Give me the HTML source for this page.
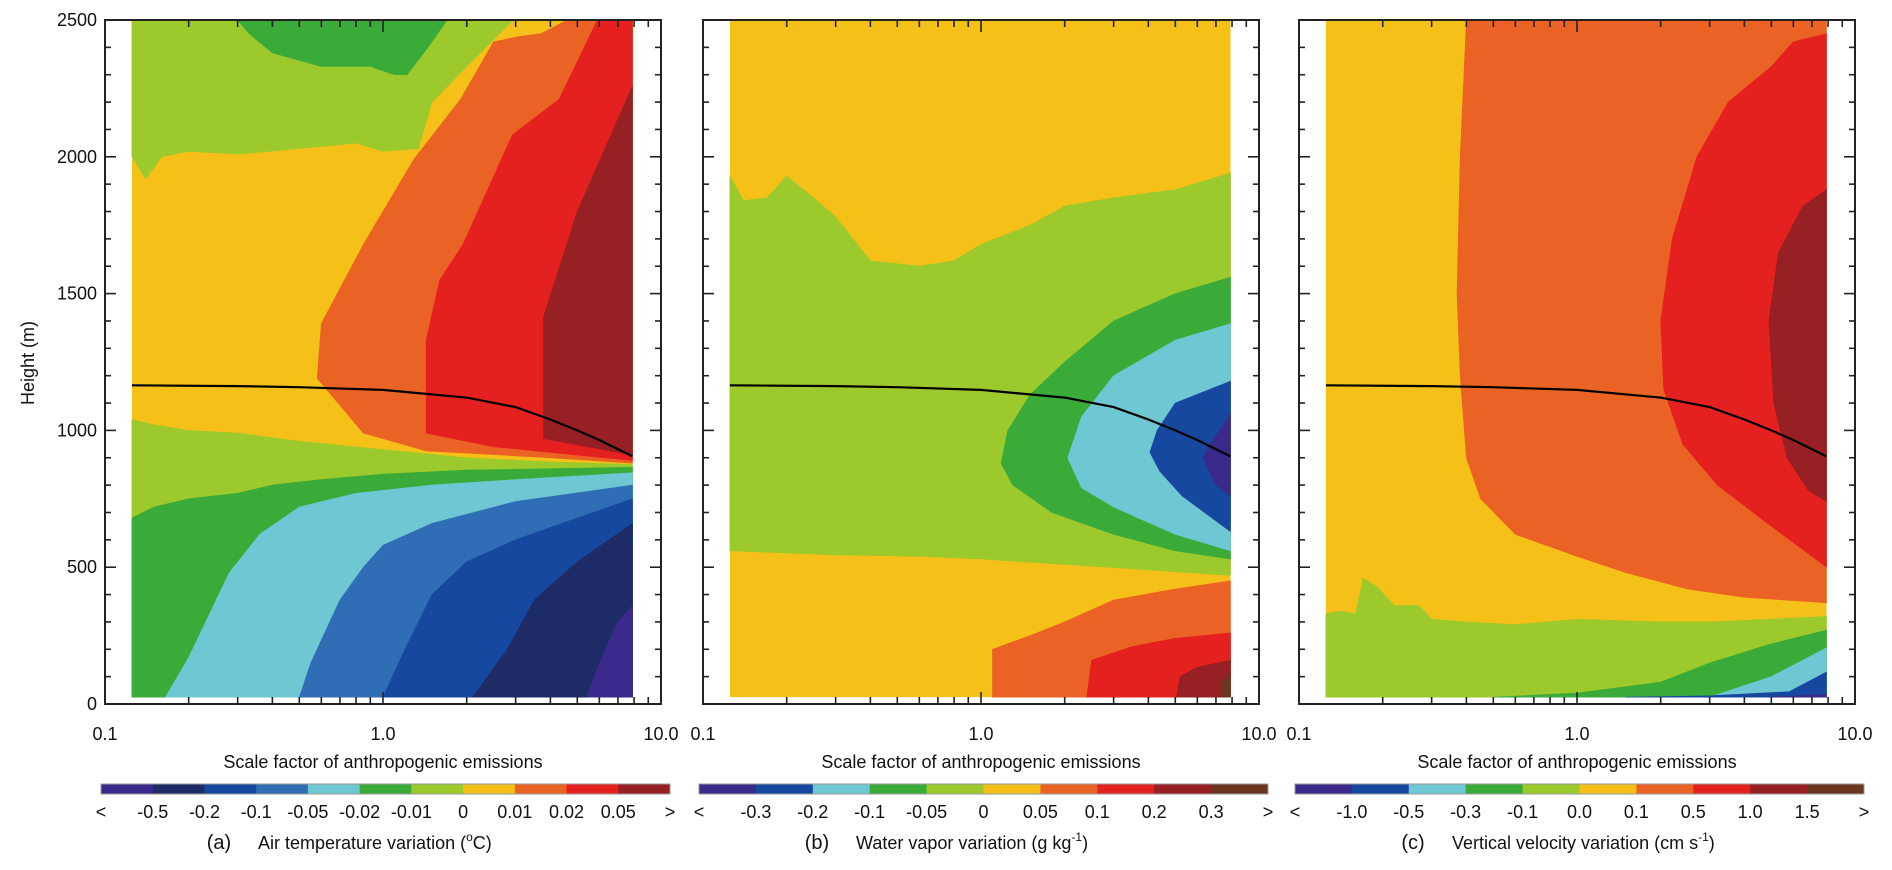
<!DOCTYPE html>
<html><head><meta charset="utf-8"><style>
html,body{margin:0;padding:0;background:#fff;}
svg{display:block;font-family:"Liberation Sans",Arial,sans-serif;}
</style></head><body>
<svg id="chart" width="1892" height="870" viewBox="0 0 1892 870" xmlns="http://www.w3.org/2000/svg"></svg>
<script>
// ---- data ----
const xTickLabels = ["0.1","1.0","10.0"];
const yTickLabels = ["0","500","1000","1500","2000","2500"];
const boundaryLine = [[0.125,1165],[0.3,1162],[0.5,1158],[1,1148],[2,1120],[3,1085],[4,1040],[5,1000],[6,965],[7.9,905]];

const levelsA = ["-0.5","-0.2","-0.1","-0.05","-0.02","-0.01","0","0.01","0.02","0.05"];
const levelsB = ["-0.3","-0.2","-0.1","-0.05","0","0.05","0.1","0.2","0.3"];
const levelsC = ["-1.0","-0.5","-0.3","-0.1","0.0","0.1","0.5","1.0","1.5"];
const colorsA = ["#3b2a8c","#1f2b66","#1748a0","#2f6db5","#70c7d4","#3aaa39","#9cc92b","#f5c118","#eb6324","#e5211f","#962024"];
const colorsBC = ["#3b2a8c","#1748a0","#70c7d4","#3aaa39","#9cc92b","#f5c118","#eb6324","#e5211f","#962024","#6b351e"];

const regionsA = [
 [6,[[0.125,2500],[0.125,2000],[0.14,1920],[0.16,2000],[0.2,2020],[0.3,2010],[0.5,2030],[0.8,2050],[1.0,2020],[1.34,2030],[1.5,2200],[2.0,2330],[2.94,2500]]],
 [5,[[0.3,2500],[0.33,2450],[0.4,2380],[0.6,2330],[0.9,2330],[1.1,2300],[1.22,2300],[1.45,2400],[1.7,2500]]],
 [8,[[0.58,1190],[0.6,1390],[0.85,1680],[1.29,1990],[1.9,2210],[2.5,2420],[3.1,2440],[3.7,2450],[4.6,2500],[7.9,2500],[7.9,880],[4,900],[1.43,925],[0.85,990]]],
 [9,[[1.43,990],[1.43,1330],[1.6,1550],[1.94,1680],[2.92,2080],[4.3,2210],[5.9,2500],[7.9,2500],[7.9,890],[2.5,940]]],
 [10,[[3.78,970],[3.78,1415],[5,1800],[7.9,2260],[7.9,910]]],
 [6,[[0.125,1040],[0.15,1020],[0.2,1000],[0.3,990],[0.5,960],[1,930],[2,900],[4,885],[7.9,875],[7.9,25],[0.125,25]]],
 [5,[[0.125,680],[0.15,720],[0.2,750],[0.3,770],[0.4,800],[0.6,820],[1,840],[2,855],[7.9,865],[7.9,25],[0.125,25]]],
 [4,[[0.165,25],[0.2,170],[0.28,480],[0.36,620],[0.5,720],[0.8,770],[1.5,800],[3,820],[7.9,845],[7.9,25]]],
 [3,[[0.5,25],[0.55,150],[0.7,380],[0.85,500],[1.0,580],[1.5,660],[3,740],[7.9,800],[7.9,25]]],
 [2,[[1.0,25],[1.2,200],[1.5,400],[2,520],[3,600],[5,680],[7.9,750],[7.9,25]]],
 [1,[[2.1,25],[2.8,200],[3.5,380],[5,520],[7.9,660],[7.9,25]]],
 [0,[[5.4,25],[6.0,150],[7.0,300],[7.9,360],[7.9,25]]]
];
const regionsB = [
 [4,[[0.125,1930],[0.14,1840],[0.17,1850],[0.2,1930],[0.25,1850],[0.3,1780],[0.4,1620],[0.6,1600],[0.8,1620],[1.0,1680],[1.5,1750],[2,1820],[3,1850],[5,1880],[7.9,1940],[7.9,470],[4,490],[2,510],[1,530],[0.6,540],[0.3,545],[0.125,560]]],
 [3,[[7.9,1560],[5,1500],[3,1400],[2,1250],[1.5,1130],[1.25,1000],[1.18,880],[1.3,800],[1.8,700],[3,620],[5,560],[7.9,530]]],
 [2,[[7.9,1390],[5,1330],[3,1200],[2.3,1050],[2.05,900],[2.3,790],[3,720],[5,620],[7.9,560]]],
 [1,[[7.9,1180],[5,1100],[4.3,1000],[4.05,920],[4.4,850],[5.3,760],[7.9,630]]],
 [0,[[7.9,1060],[6.8,960],[6.3,900],[7,800],[7.9,760]]],
 [6,[[1.1,25],[1.1,200],[1.5,250],[2,300],[3,380],[5,420],[7.9,450],[7.9,25]]],
 [7,[[2.4,25],[2.5,160],[3.5,210],[5,240],[7.9,260],[7.9,25]]],
 [8,[[5.05,25],[5.2,100],[6,135],[7.9,160],[7.9,25]]],
 [9,[[7.3,25],[7.3,80],[7.9,110],[7.9,25]]]
];
const regionsC = [
 [6,[[0.4,2500],[0.38,2000],[0.37,1500],[0.38,1200],[0.4,900],[0.45,750],[0.6,620],[1.0,540],[1.5,480],[2.5,420],[4,390],[7.9,370],[7.9,2500]]],
 [7,[[7.9,2450],[6,2420],[5,2330],[3.5,2200],[2.7,2000],[2.2,1700],[2.0,1400],[2.05,1150],[2.4,950],[3.2,800],[5,650],[7.9,500]]],
 [8,[[7.9,1880],[6.5,1820],[5.3,1650],[4.9,1400],[5.1,1100],[5.7,900],[6.8,780],[7.9,740]]],
 [4,[[0.125,330],[0.14,340],[0.16,330],[0.17,460],[0.19,430],[0.22,360],[0.27,360],[0.3,310],[0.4,300],[0.6,290],[1,310],[2,300],[3,300],[5,310],[7.9,320],[7.9,25],[0.125,25]]],
 [3,[[0.5,25],[1,40],[2,80],[3,150],[5,220],[7.9,270],[7.9,25]]],
 [2,[[3,25],[5,100],[7.9,205],[7.9,25]]],
 [1,[[1.5,25],[3,30],[5.8,45],[7.9,117],[7.9,25]]],
 [0,[[5,25],[7.9,35],[7.9,25]]]
];

// ---- layout ----
const NS="http://www.w3.org/2000/svg";
const svg=document.getElementById('chart');
const panelLefts=[105,703,1299];
const PW=556, TOP=20, BOT=704, DEC=278, HSCALE=(BOT-TOP)/2500;
function mk(tag,attrs,parent){const e=document.createElementNS(NS,tag);for(const k in attrs)e.setAttribute(k,attrs[k]);(parent||svg).appendChild(e);return e;}
function xs(left,v){return left+(Math.log10(v)+1)*DEC;}
function ys(h){return BOT-h*HSCALE;}

const panels=[
 {name:'a',regions:regionsA,colors:colorsA,base:7,levels:levelsA,title:'Air temperature variation (',sup:'o',after:'C)'},
 {name:'b',regions:regionsB,colors:colorsBC,base:5,levels:levelsB,title:'Water vapor variation (g kg',sup:'-1',after:')'},
 {name:'c',regions:regionsC,colors:colorsBC,base:5,levels:levelsC,title:'Vertical velocity variation (cm s',sup:'-1',after:')'}
];
const cbLefts=[101,699,1295], CBW=569;

panels.forEach((p,pi)=>{
 const L=panelLefts[pi];
 const g=mk('g',{});
 
 
 const base=mk('rect',{x:xs(L,0.125),y:ys(2500),width:xs(L,7.9)-xs(L,0.125),height:ys(25)-ys(2500),fill:p.colors[p.base]},g);
 
 
 p.regions.forEach((r,ri)=>{
  const pts=r[1].map(q=>xs(L,q[0]).toFixed(1)+','+ys(q[1]).toFixed(1)).join(' ');
  const poly=mk('polygon',{points:pts,fill:p.colors[r[0]],stroke:p.colors[r[0]],'stroke-width':0.6},g);
  
  
 });
 const line=mk('polyline',{points:boundaryLine.map(q=>xs(L,q[0]).toFixed(1)+','+ys(q[1]).toFixed(1)).join(' '),fill:'none',stroke:'#000','stroke-width':2.2},g);
 
 
 const fr=mk('rect',{x:L,y:TOP,width:PW,height:BOT-TOP,fill:'none',stroke:'#222','stroke-width':2},g);
 
 
 for(let d=0;d<2;d++){for(let m=1;m<=9;m++){
  const v=Math.pow(10,d-1)*m; const x=xs(L,v); const len=(m===1)?12:7;
  if(m===1&&d===0) continue;
  mk('line',{x1:x,y1:BOT,x2:x,y2:BOT-len,stroke:'#222','stroke-width':1.6},g);
  mk('line',{x1:x,y1:TOP,x2:x,y2:TOP+len,stroke:'#222','stroke-width':1.6},g);
 }}
 for(let h=100;h<2500;h+=100){
  const y=ys(h); const len=(h%500===0)?11:6;
  mk('line',{x1:L,y1:y,x2:L+len,y2:y,stroke:'#222','stroke-width':1.6},g);
  mk('line',{x1:L+PW,y1:y,x2:L+PW-len,y2:y,stroke:'#222','stroke-width':1.6},g);
 }
 xTickLabels.forEach((t,i)=>{
  const tx=mk('text',{x:L+i*DEC,y:740,'font-size':18,'text-anchor':'middle',fill:'#111'},g);
  tx.textContent=t;
  
  
 });
 const xt=mk('text',{x:L+PW/2,y:768,'font-size':18,'text-anchor':'middle',fill:'#111'},g);
 xt.textContent='Scale factor of anthropogenic emissions';
 
 
 const CL=cbLefts[pi]; const n=p.colors.length; const bw=CBW/n;
 const cb=mk('g',{},g);
 
 
 p.colors.forEach((c,i)=>{
  const r=mk('rect',{x:CL+i*bw,y:784,width:bw+0.5,height:10,fill:c},cb);
  
  
 });
 mk('rect',{x:CL,y:784,width:CBW,height:10,fill:'none',stroke:'#999','stroke-width':1},cb);
 const lab=['<'].concat(p.levels,['>']);
 lab.forEach((t,i)=>{
  const tx=mk('text',{x:CL+i*bw,y:818,'font-size':18,'text-anchor':'middle',fill:'#111'},cb);
  tx.textContent=t;
  
  
 });
 const pl=mk('text',{x:CL+118,y:849,'font-size':20,'text-anchor':'middle',fill:'#111'},cb);
 pl.textContent='('+p.name+')';
 
 
 const tt=mk('text',{x:CL+157,y:849,'font-size':18,fill:'#111'},cb);
 
 
 tt.appendChild(document.createTextNode(p.title));
 const sp=mk('tspan',{'font-size':12,dy:-8},tt); sp.textContent=p.sup;
 const af=mk('tspan',{dy:8},tt); af.textContent=p.after;
});
yTickLabels.forEach((t,i)=>{
 const tx=mk('text',{x:97,y:ys(i*500)+6,'font-size':18,'text-anchor':'end',fill:'#111'});
 tx.textContent=t;
 
 
});
const yt=mk('text',{x:0,y:0,'font-size':18,'text-anchor':'middle',fill:'#111',transform:'translate(34,363) rotate(-90)'});
yt.textContent='Height (m)';


</script>
</body></html>
